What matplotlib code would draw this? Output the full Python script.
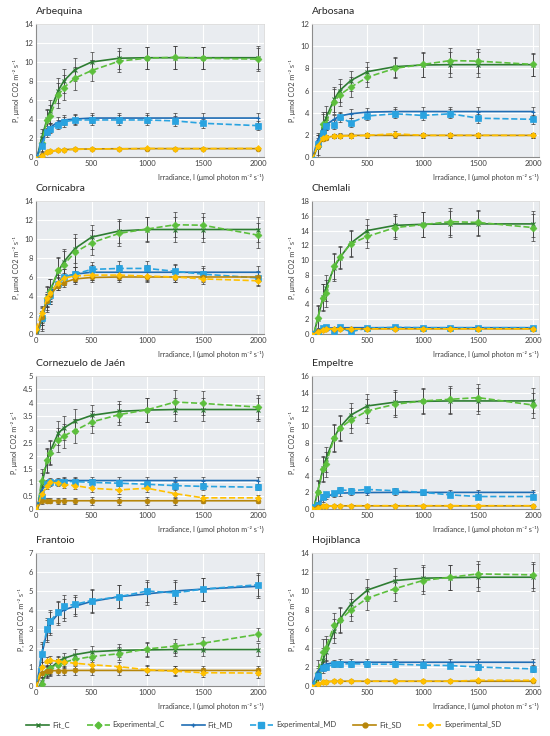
import matplotlib
matplotlib.use("Agg")
import matplotlib.pyplot as plt
import matplotlib.ticker as ticker
from matplotlib.lines import Line2D

plt.rcParams['font.family'] = ['Lato', 'DejaVu Sans']

# irradiance levels, µmol photon m-2 s-1
IRR = [0, 50, 100, 125, 200, 250, 350, 500, 750, 1000, 1250, 1500, 2000]

# ── Arbequina ────────────────────────────────────────────────────────────────
arbequina_fit_c  = [-0.6, 2.0, 4.0, 4.8, 7.0, 8.0, 9.2, 10.0, 10.4, 10.45, 10.45, 10.45, 10.45]
arbequina_exp_c  = [-0.6, 1.5, 3.9, 4.3, 6.5, 7.3, 8.3, 9.1, 10.1, 10.4, 10.5, 10.4, 10.3]
arbequina_fit_md = [-0.3, 1.5, 2.8, 3.1, 3.7, 3.9, 4.0, 4.1, 4.1, 4.1, 4.1, 4.1, 4.1]
arbequina_exp_md = [-0.3, 1.2, 2.6, 3.0, 3.4, 3.7, 3.9, 3.9, 3.9, 3.9, 3.8, 3.55, 3.3]
arbequina_fit_sd = [-0.2, 0.2, 0.5, 0.6, 0.72, 0.78, 0.82, 0.85, 0.87, 0.88, 0.88, 0.88, 0.88]
arbequina_exp_sd = [-0.2, 0.1, 0.5, 0.6, 0.7, 0.75, 0.8, 0.85, 0.85, 0.9, 0.88, 0.88, 0.9]
arbequina_err_c  = [0, 1.0, 1.1, 1.2, 1.3, 1.3, 1.2, 1.1, 1.1, 1.15, 1.2, 1.15, 1.2]
arbequina_err_md = [0, 0.6, 0.5, 0.5, 0.5, 0.5, 0.5, 0.5, 0.5, 0.5, 0.5, 0.5, 0.5]
arbequina_err_sd = [0, 0.1, 0.1, 0.1, 0.1, 0.1, 0.1, 0.1, 0.1, 0.1, 0.1, 0.1, 0.1]

# ── Arbosana ─────────────────────────────────────────────────────────────────
arbosana_fit_c  = [-0.5, 1.2, 2.8, 3.5, 5.2, 6.0, 6.9, 7.7, 8.15, 8.3, 8.33, 8.33, 8.33]
arbosana_exp_c  = [-0.5, 1.0, 3.0, 3.0, 5.0, 5.6, 6.3, 7.2, 8.0, 8.35, 8.7, 8.65, 8.35]
arbosana_fit_md = [-0.3, 1.5, 2.5, 2.9, 3.4, 3.7, 3.9, 4.05, 4.1, 4.1, 4.1, 4.1, 4.1]
arbosana_exp_md = [-0.3, 1.2, 2.2, 2.8, 2.9, 3.6, 3.1, 3.7, 3.9, 3.75, 3.9, 3.5, 3.4]
arbosana_fit_sd = [-0.3, 1.0, 1.6, 1.75, 1.9, 1.93, 1.95, 1.95, 1.95, 1.95, 1.95, 1.95, 1.95]
arbosana_exp_sd = [-0.3, 1.0, 1.7, 1.8, 1.9, 1.9, 1.9, 1.95, 2.1, 1.95, 1.95, 1.95, 1.95]
arbosana_err_c  = [0, 1.0, 1.1, 1.1, 1.1, 1.0, 0.9, 0.9, 0.9, 1.1, 1.1, 1.1, 1.0]
arbosana_err_md = [0, 0.5, 0.5, 0.4, 0.4, 0.4, 0.4, 0.4, 0.4, 0.4, 0.4, 0.4, 0.4]
arbosana_err_sd = [0, 0.2, 0.2, 0.2, 0.2, 0.2, 0.2, 0.2, 0.25, 0.2, 0.2, 0.2, 0.2]

# ── Cornicabra ───────────────────────────────────────────────────────────────
cornicabra_fit_c  = [-0.8, 1.5, 3.6, 4.5, 6.6, 7.6, 9.0, 10.2, 10.85, 11.0, 11.0, 11.0, 11.0]
cornicabra_exp_c  = [-0.8, 1.7, 3.8, 4.5, 6.7, 7.3, 8.6, 9.6, 10.6, 11.05, 11.5, 11.45, 10.4]
cornicabra_fit_md = [-0.5, 1.6, 3.5, 4.2, 5.5, 6.0, 6.3, 6.5, 6.5, 6.5, 6.5, 6.5, 6.5]
cornicabra_exp_md = [-0.5, 1.7, 3.5, 4.1, 5.3, 6.0, 6.3, 6.8, 6.9, 6.9, 6.6, 6.3, 5.9]
cornicabra_fit_sd = [-0.3, 1.8, 3.5, 4.1, 5.1, 5.4, 5.8, 5.95, 6.0, 6.0, 6.0, 6.0, 6.0]
cornicabra_exp_sd = [0.5, 2.2, 3.8, 4.3, 5.4, 5.9, 6.1, 6.2, 6.2, 6.1, 6.0, 5.8, 5.6]
cornicabra_err_c  = [0, 1.2, 1.3, 1.3, 1.4, 1.4, 1.5, 1.3, 1.3, 1.3, 1.3, 1.3, 1.3]
cornicabra_err_md = [0, 0.7, 0.7, 0.7, 0.7, 0.8, 0.8, 0.8, 0.8, 0.8, 0.8, 0.7, 0.7]
cornicabra_err_sd = [0, 0.6, 0.6, 0.6, 0.5, 0.5, 0.5, 0.5, 0.5, 0.5, 0.5, 0.5, 0.5]

# ── Chemlali ─────────────────────────────────────────────────────────────────
chemlali_fit_c  = [-1.0, 2.0, 5.0, 6.2, 9.0, 10.3, 12.3, 14.0, 14.7, 14.85, 14.9, 14.9, 14.9]
chemlali_exp_c  = [-1.0, 2.1, 4.9, 5.5, 9.2, 10.4, 12.2, 13.2, 14.4, 14.8, 15.2, 15.1, 14.4]
chemlali_fit_md = [0.0, 0.6, 0.75, 0.8, 0.82, 0.84, 0.85, 0.85, 0.85, 0.85, 0.85, 0.85, 0.85]
chemlali_exp_md = [0.0, 0.3, 0.8, 0.9, 0.4, 0.9, 0.3, 0.8, 0.9, 0.85, 0.85, 0.85, 0.85]
chemlali_fit_sd = [-0.2, 0.4, 0.6, 0.65, 0.7, 0.7, 0.7, 0.7, 0.7, 0.7, 0.7, 0.7, 0.7]
chemlali_exp_sd = [-0.2, 0.3, 0.6, 0.65, 0.7, 0.7, 0.7, 0.7, 0.7, 0.7, 0.7, 0.7, 0.7]
chemlali_err_c  = [0, 1.8, 1.8, 1.8, 1.8, 1.5, 1.8, 1.6, 1.6, 1.7, 1.8, 1.7, 1.8]
chemlali_err_md = [0, 0.15, 0.15, 0.15, 0.15, 0.15, 0.15, 0.15, 0.15, 0.15, 0.15, 0.15, 0.15]
chemlali_err_sd = [0, 0.1, 0.1, 0.1, 0.1, 0.1, 0.1, 0.1, 0.1, 0.1, 0.1, 0.1, 0.1]

# ── Cornezuelo de Jaén ───────────────────────────────────────────────────────
cornezuelo_fit_c  = [-0.3, 0.9, 1.8, 2.15, 2.85, 3.05, 3.3, 3.52, 3.67, 3.72, 3.74, 3.74, 3.74]
cornezuelo_exp_c  = [-0.3, 1.05, 1.85, 2.1, 2.58, 2.75, 2.95, 3.27, 3.55, 3.73, 4.02, 3.97, 3.83]
cornezuelo_fit_md = [-0.1, 0.7, 0.98, 1.03, 1.06, 1.07, 1.07, 1.07, 1.07, 1.07, 1.07, 1.07, 1.07]
cornezuelo_exp_md = [-0.1, 0.45, 0.95, 1.0, 1.02, 1.03, 1.03, 1.0, 0.97, 0.93, 0.88, 0.85, 0.82]
cornezuelo_fit_sd = [-0.05, 0.3, 0.31, 0.31, 0.31, 0.31, 0.31, 0.31, 0.31, 0.31, 0.31, 0.31, 0.31]
cornezuelo_exp_sd = [-0.05, 0.55, 0.85, 1.0, 0.98, 0.92, 0.88, 0.78, 0.72, 0.78, 0.58, 0.42, 0.42]
cornezuelo_err_c  = [0, 0.45, 0.45, 0.45, 0.45, 0.45, 0.45, 0.4, 0.4, 0.45, 0.45, 0.45, 0.45]
cornezuelo_err_md = [0, 0.12, 0.12, 0.12, 0.12, 0.12, 0.12, 0.12, 0.12, 0.12, 0.12, 0.12, 0.12]
cornezuelo_err_sd = [0, 0.1, 0.1, 0.1, 0.12, 0.12, 0.12, 0.15, 0.15, 0.15, 0.15, 0.1, 0.1]

# ── Empeltre ─────────────────────────────────────────────────────────────────
empeltre_fit_c  = [-0.8, 2.0, 4.9, 6.0, 8.6, 9.8, 11.3, 12.4, 12.85, 12.95, 13.0, 13.0, 13.0]
empeltre_exp_c  = [-0.8, 2.1, 4.8, 5.4, 8.5, 9.7, 10.7, 11.8, 12.6, 13.0, 13.2, 13.4, 12.5]
empeltre_fit_md = [0.2, 0.5, 1.2, 1.5, 1.8, 1.9, 1.95, 1.98, 2.0, 2.0, 2.0, 2.0, 2.0]
empeltre_exp_md = [0.2, 0.5, 1.5, 1.8, 1.9, 2.3, 2.2, 2.35, 2.2, 2.0, 1.7, 1.5, 1.5]
empeltre_fit_sd = [0.0, 0.3, 0.35, 0.36, 0.37, 0.38, 0.38, 0.38, 0.38, 0.38, 0.38, 0.38, 0.38]
empeltre_exp_sd = [0.0, 0.1, 0.35, 0.35, 0.38, 0.4, 0.4, 0.4, 0.4, 0.4, 0.4, 0.4, 0.4]
empeltre_err_c  = [0, 1.4, 1.5, 1.5, 1.6, 1.5, 1.5, 1.4, 1.5, 1.5, 1.6, 1.6, 1.5]
empeltre_err_md = [0, 0.3, 0.3, 0.3, 0.3, 0.3, 0.3, 0.3, 0.3, 0.3, 0.3, 0.3, 0.3]
empeltre_err_sd = [0, 0.1, 0.1, 0.1, 0.1, 0.1, 0.1, 0.1, 0.1, 0.1, 0.1, 0.1, 0.1]

# ── Frantoio ─────────────────────────────────────────────────────────────────
frantoio_fit_c  = [-0.3, 0.2, 0.7, 0.9, 1.3, 1.45, 1.65, 1.8, 1.88, 1.9, 1.92, 1.92, 1.92]
frantoio_exp_c  = [-0.3, 0.1, 0.8, 0.95, 1.1, 1.25, 1.4, 1.55, 1.7, 1.95, 2.1, 2.25, 2.72]
frantoio_fit_md = [-0.2, 1.6, 2.9, 3.3, 3.8, 4.0, 4.2, 4.45, 4.7, 4.85, 5.0, 5.1, 5.25]
frantoio_exp_md = [-0.2, 1.7, 3.0, 3.4, 3.9, 4.2, 4.3, 4.5, 4.7, 5.0, 4.9, 5.1, 5.33]
frantoio_fit_sd = [-0.1, 0.7, 0.8, 0.8, 0.81, 0.81, 0.82, 0.82, 0.82, 0.82, 0.82, 0.82, 0.82]
frantoio_exp_sd = [-0.1, 1.0, 1.3, 1.35, 1.3, 1.25, 1.2, 1.12, 1.02, 0.85, 0.78, 0.7, 0.68]
frantoio_err_c  = [0, 0.3, 0.3, 0.3, 0.3, 0.3, 0.3, 0.3, 0.35, 0.35, 0.35, 0.35, 0.35]
frantoio_err_md = [0, 0.6, 0.6, 0.6, 0.6, 0.6, 0.5, 0.6, 0.6, 0.6, 0.6, 0.6, 0.6]
frantoio_err_sd = [0, 0.25, 0.25, 0.25, 0.25, 0.25, 0.25, 0.25, 0.25, 0.25, 0.25, 0.25, 0.25]

# ── Hojiblanca ───────────────────────────────────────────────────────────────
hojiblanca_fit_c  = [-1.0, 0.8, 2.7, 3.6, 5.8, 7.0, 8.6, 10.1, 11.1, 11.35, 11.4, 11.45, 11.45]
hojiblanca_exp_c  = [-1.0, 1.4, 3.6, 4.0, 6.4, 6.9, 8.0, 9.25, 10.25, 11.1, 11.45, 11.8, 11.7]
hojiblanca_fit_md = [0.0, 1.5, 2.2, 2.3, 2.45, 2.5, 2.5, 2.5, 2.5, 2.5, 2.5, 2.5, 2.5]
hojiblanca_exp_md = [0.0, 1.1, 1.9, 2.0, 2.3, 2.3, 2.35, 2.3, 2.3, 2.2, 2.15, 2.0, 1.8]
hojiblanca_fit_sd = [-0.1, 0.2, 0.4, 0.45, 0.5, 0.5, 0.5, 0.5, 0.5, 0.5, 0.5, 0.5, 0.5]
hojiblanca_exp_sd = [-0.1, 0.2, 0.4, 0.45, 0.5, 0.5, 0.5, 0.5, 0.5, 0.5, 0.5, 0.6, 0.6]
hojiblanca_err_c  = [0, 1.3, 1.3, 1.3, 1.3, 1.3, 1.2, 1.2, 1.3, 1.4, 1.3, 1.4, 1.4]
hojiblanca_err_md = [0, 0.35, 0.35, 0.35, 0.3, 0.3, 0.3, 0.3, 0.3, 0.3, 0.3, 0.3, 0.3]
hojiblanca_err_sd = [0, 0.1, 0.1, 0.1, 0.1, 0.1, 0.1, 0.1, 0.1, 0.1, 0.1, 0.1, 0.1]

# (title, y max, y step, series...) in reading order
PANELS = [
    ("Arbequina", 14, 2, arbequina_fit_c, arbequina_exp_c, arbequina_fit_md, arbequina_exp_md,
     arbequina_fit_sd, arbequina_exp_sd, arbequina_err_c, arbequina_err_md, arbequina_err_sd),
    ("Arbosana", 12, 2, arbosana_fit_c, arbosana_exp_c, arbosana_fit_md, arbosana_exp_md,
     arbosana_fit_sd, arbosana_exp_sd, arbosana_err_c, arbosana_err_md, arbosana_err_sd),
    ("Cornicabra", 14, 2, cornicabra_fit_c, cornicabra_exp_c, cornicabra_fit_md, cornicabra_exp_md,
     cornicabra_fit_sd, cornicabra_exp_sd, cornicabra_err_c, cornicabra_err_md, cornicabra_err_sd),
    ("Chemlali", 18, 2, chemlali_fit_c, chemlali_exp_c, chemlali_fit_md, chemlali_exp_md,
     chemlali_fit_sd, chemlali_exp_sd, chemlali_err_c, chemlali_err_md, chemlali_err_sd),
    ("Cornezuelo de Jaén", 5, 0.5, cornezuelo_fit_c, cornezuelo_exp_c, cornezuelo_fit_md, cornezuelo_exp_md,
     cornezuelo_fit_sd, cornezuelo_exp_sd, cornezuelo_err_c, cornezuelo_err_md, cornezuelo_err_sd),
    ("Empeltre", 16, 2, empeltre_fit_c, empeltre_exp_c, empeltre_fit_md, empeltre_exp_md,
     empeltre_fit_sd, empeltre_exp_sd, empeltre_err_c, empeltre_err_md, empeltre_err_sd),
    ("Frantoio", 7, 1, frantoio_fit_c, frantoio_exp_c, frantoio_fit_md, frantoio_exp_md,
     frantoio_fit_sd, frantoio_exp_sd, frantoio_err_c, frantoio_err_md, frantoio_err_sd),
    ("Hojiblanca", 14, 2, hojiblanca_fit_c, hojiblanca_exp_c, hojiblanca_fit_md, hojiblanca_exp_md,
     hojiblanca_fit_sd, hojiblanca_exp_sd, hojiblanca_err_c, hojiblanca_err_md, hojiblanca_err_sd),
]

# colours
FIT_C_COLOR  = "#2E7D32"
EXP_C_COLOR  = "#5CBF3C"
FIT_MD_COLOR = "#1F6DB4"
EXP_MD_COLOR = "#29A3E0"
FIT_SD_COLOR = "#B7860B"
EXP_SD_COLOR = "#FFC000"
ERR_COLOR    = "#3A3A3A"
PANEL_BG     = "#E9ECF0"
TEXT_COLOR   = "#404040"

STYLES = [
    # label, colour, linestyle, marker, markersize
    ("Fit_C",           FIT_C_COLOR,  "-",  "x", 3),
    ("Experimental_C",  EXP_C_COLOR,  "--", "D", 3.5),
    ("Fit_MD",          FIT_MD_COLOR, "-",  "+", 3.5),
    ("Experimental_MD", EXP_MD_COLOR, "--", "s", 4.5),
    ("Fit_SD",          FIT_SD_COLOR, "-",  "o", 3.5),
    ("Experimental_SD", EXP_SD_COLOR, "--", "D", 3),
]

W, H = 550, 736
fig = plt.figure(figsize=(W / 100, H / 100), dpi=100)

# axes boxes in pixels: (left, top, right, bottom)
COLS = [(36, 264), (312, 539)]
ROWS = [(24, 157), (201, 334), (376, 509), (553, 686)]

for idx, panel in enumerate(PANELS):
    title, ymax, ystep = panel[0], panel[1], panel[2]
    fit_c, exp_c, fit_md, exp_md, fit_sd, exp_sd, err_c, err_md, err_sd = panel[3:]
    left, right = COLS[idx % 2]
    top, bottom = ROWS[idx // 2]
    ax = fig.add_axes([left / W, 1 - bottom / H, (right - left) / W, (bottom - top) / H])
    ax.set_facecolor(PANEL_BG)

    series = [fit_c, exp_c, fit_md, exp_md, fit_sd, exp_sd]
    errors = [err_c, err_c, err_md, err_md, err_sd, err_sd]
    # draw SD first, C last, so green sits on top like the original
    for k in [5, 4, 3, 2, 1, 0]:
        label, color, ls, marker, ms = STYLES[k]
        ax.errorbar(IRR[1:], series[k][1:], yerr=errors[k][1:], fmt="none",
                    ecolor=ERR_COLOR, elinewidth=0.5, capsize=1.6, capthick=0.5,
                    zorder=2 + k * 0.1)
        ax.plot(IRR, series[k], color=color, linestyle=ls, linewidth=1.2,
                marker=marker, markersize=ms, markeredgewidth=0.8 if marker in "x+" else 0.5,
                markeredgecolor=color, zorder=3 + k * 0.1)

    ax.set_xlim(0, 2050)
    ax.set_ylim(0, ymax)
    ax.xaxis.set_major_locator(ticker.MultipleLocator(500))
    ax.yaxis.set_major_locator(ticker.MultipleLocator(ystep))
    ax.yaxis.set_major_formatter(ticker.FuncFormatter(lambda v, p: f"{v:g}"))
    ax.grid(color="white", linewidth=0.8)
    ax.set_axisbelow(True)
    ax.tick_params(length=0, labelsize=5.5, labelcolor=TEXT_COLOR, pad=2)
    for name, spine in ax.spines.items():
        if name in ("left", "bottom"):
            spine.set_edgecolor("#8C8C8C")
            spine.set_linewidth(0.8)
        else:
            spine.set_edgecolor("#D9D9D9")
            spine.set_linewidth(0.6)

    ax.set_ylabel("P, μmol CO2 m⁻² s⁻¹", fontsize=5.2, color=TEXT_COLOR, labelpad=3)
    ax.set_xlabel("Irradiance, I (μmol photon m⁻² s⁻¹)", fontsize=5.2, color=TEXT_COLOR,
                  loc="right", labelpad=5)
    ax.text(0.0, 1.06, title, transform=ax.transAxes, fontsize=7.5, color="#262626",
            ha="left", va="bottom")

handles = [Line2D([0], [0], color=c, linestyle=ls, linewidth=1.2, marker=m,
                  markersize=ms, markeredgecolor=c)
           for _, c, ls, m, ms in STYLES]
fig.legend(handles, [s[0] for s in STYLES], loc="center", bbox_to_anchor=(0.48, 1 - 725 / H),
           ncol=6, frameon=False, fontsize=5.5, handlelength=3.0, columnspacing=2.2,
           handletextpad=0.4, labelcolor=TEXT_COLOR)

fig.savefig("out.png", dpi=100, facecolor="white")
plt.close(fig)
